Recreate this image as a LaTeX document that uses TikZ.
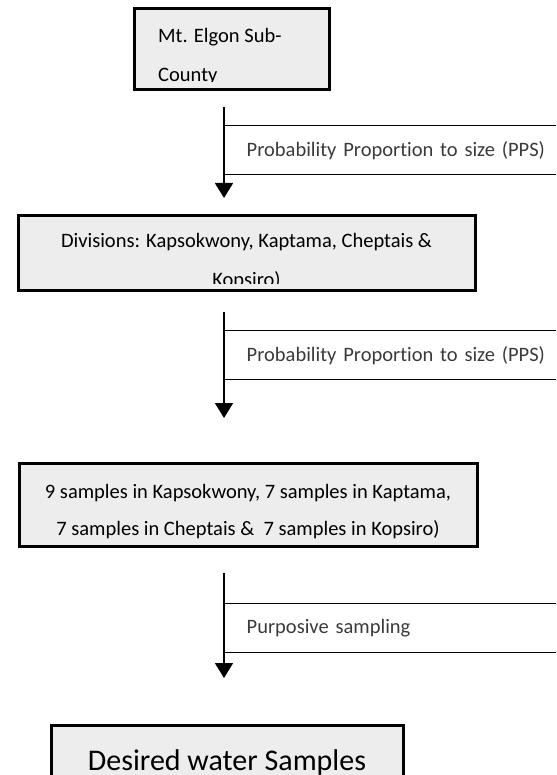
\documentclass[tikz,border=0pt]{standalone}
\usepackage{fontspec}
\setmainfont{Carlito}[Ligatures=NoCommon]
\usetikzlibrary{arrows.meta}
\definecolor{boxgrey}{HTML}{EDEDED}
\definecolor{labelgrey}{HTML}{3A3A3A}
\begin{document}
\begin{tikzpicture}[x=1pt,y=-1pt,
  boxnode/.style={draw=black, line width=3pt, fill=boxgrey, rectangle, inner sep=0pt},
  boxtext/.style={font=\fontsize{20.5}{20.5}\selectfont, text=black, inner sep=0pt},
  bigtext/.style={font=\fontsize{30}{30}\selectfont, text=black, inner sep=0pt},
  labelbox/.style={draw=black, line width=1.4pt, anchor=north west, minimum height=49pt,
     text width=330pt, inner xsep=22pt, inner ysep=0pt, align=left,
     font=\fontsize{20.5}{20.5}\selectfont, text=labelgrey},
  flowarrow/.style={line width=1.6pt, -{Triangle[width=18pt,length=15pt]}}
]
\clip (0,0) rectangle (556,775);

% Box 1
\node[boxnode, minimum width=195pt, minimum height=81pt] (b1) at (231.5,49.5) {};
\begin{scope}
\clip ([xshift=1.5pt,yshift=-12pt]b1.north west) rectangle ([xshift=-1.5pt,yshift=10pt]b1.south east);
\node[boxtext, anchor=base west] (t1a) at (158,43) {Mt. Elgon Sub-};
\node[boxtext, anchor=base west] (t1b) at (158,82) {County};
\end{scope}

% Arrow 1
\coordinate (a1s) at (224,107);
\coordinate (a1e) at (224,198);
\node[labelbox] (p1) at (224,125) {Probability Proportion to size (PPS)};
\draw[flowarrow] (a1s) -- (a1e);

% Box 2
\node[boxnode, minimum width=457pt, minimum height=74pt] (b2) at (246.5,253) {};
\begin{scope}
\clip ([xshift=1.5pt,yshift=-1.5pt]b2.north west) rectangle ([xshift=-1.5pt,yshift=8pt]b2.south east);
\node[boxtext, anchor=base] (t2a) at (246.5,248) {Divisions: Kapsokwony, Kaptama, Cheptais \&};
\node[boxtext, anchor=base] (t2b) at (246.5,287) {Kopsiro)};
\end{scope}

% Arrow 2
\coordinate (a2s) at (224,312);
\coordinate (a2e) at (224,418);
\node[labelbox] (p2) at (224,330) {Probability Proportion to size (PPS)};
\draw[flowarrow] (a2s) -- (a2e);

% Box 3
\node[boxnode, minimum width=458pt, minimum height=83pt] (b3) at (248,504.5) {};
\begin{scope}
\clip ([xshift=1.5pt,yshift=-1.5pt]b3.north west) rectangle ([xshift=-1.5pt,yshift=7pt]b3.south east);
\node[boxtext, anchor=base] (t3a) at (248,498) {9 samples in Kapsokwony, 7 samples in Kaptama,};
\node[boxtext, anchor=base] (t3b) at (248,535) {7 samples in Cheptais \&\ \ 7 samples in Kopsiro)};
\end{scope}

% Arrow 3
\coordinate (a3s) at (224,573);
\coordinate (a3e) at (224,678);
\node[labelbox] (p3) at (224,603) {Purposive sampling};
\draw[flowarrow] (a3s) -- (a3e);

% Box 4
\node[boxnode, minimum width=352pt, minimum height=80pt] (b4) at (227,765) {};
\node[bigtext, anchor=base] (t4) at (227,770) {Desired water Samples};
\end{tikzpicture}
\end{document}
